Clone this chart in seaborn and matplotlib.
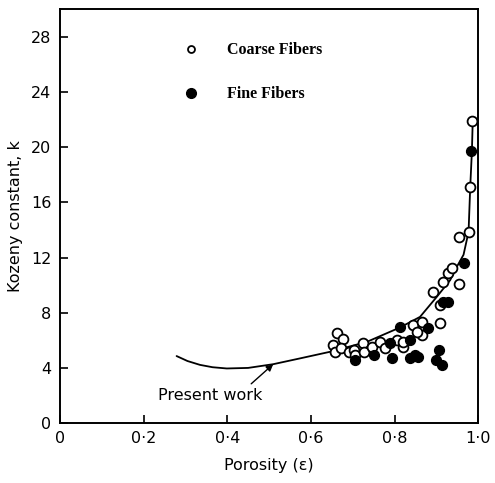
import pandas as pd
import seaborn as sns
import matplotlib.pyplot as plt
from matplotlib.lines import Line2D

# Coarse fibers (open circles)
coarse_x = [0.654, 0.658, 0.662, 0.678, 0.673, 0.692, 0.702, 0.706, 0.724, 0.726,
            0.746, 0.766, 0.778, 0.805, 0.821, 0.821, 0.845, 0.865, 0.865, 0.854,
            0.909, 0.909, 0.893, 0.917, 0.927, 0.937, 0.955, 0.955, 0.977, 0.981, 0.986]
coarse_k = [5.65, 5.17, 6.50, 6.07, 5.43, 5.17, 5.29, 4.93, 5.82, 5.17,
            5.49, 5.89, 5.43, 6.01, 5.53, 5.89, 7.10, 7.34, 6.38, 6.60,
            7.27, 8.55, 9.51, 10.24, 10.85, 11.21, 10.07, 13.50, 13.86, 17.12, 21.90]

# Fine fibers (filled circles)
fine_x = [0.706, 0.752, 0.789, 0.794, 0.813, 0.837, 0.837, 0.849, 0.857, 0.881,
          0.907, 0.900, 0.913, 0.917, 0.929, 0.965, 0.982]
fine_k = [4.57, 4.93, 5.78, 4.69, 6.93, 6.01, 4.71, 4.93, 4.80, 6.86,
          5.29, 4.57, 4.20, 8.79, 8.79, 11.64, 19.71]

# Present work curve
curve_x = [0.279, 0.305, 0.335, 0.365, 0.399, 0.45, 0.51, 0.574, 0.646, 0.734,
           0.813, 0.861, 0.901, 0.933, 0.949, 0.965, 0.977, 0.981, 0.985, 0.987]
curve_k = [4.86, 4.50, 4.22, 4.05, 3.96, 4.00, 4.27, 4.69, 5.17, 5.89,
           6.93, 7.70, 9.15, 10.36, 11.33, 12.20, 13.86, 17.10, 19.70, 21.90]

xticks = [0, 0.2, 0.4, 0.6, 0.8, 1.0]
xtick_labels = ["0", "0·2", "0·4", "0·6", "0·8", "1·0"]
yticks = [0, 4, 8, 12, 16, 20, 24, 28]

sns.set_style("ticks")
plt.rcParams['font.family'] = ['DejaVu Sans']
plt.rcParams.update({"text.color": "black", "axes.labelcolor": "black",
                     "xtick.color": "black", "ytick.color": "black",
                     "axes.edgecolor": "black"})

fig = plt.figure(figsize=(4.95, 4.83), dpi=100)
ax = fig.add_axes([0.121, 0.124, 0.845, 0.857])

curve = pd.DataFrame({"x": curve_x, "k": curve_k})
sns.lineplot(data=curve, x="x", y="k", color="black", linewidth=1.3,
             sort=False, estimator=None, ax=ax)

sns.scatterplot(x=coarse_x, y=coarse_k, marker="o", s=50, facecolor="white",
                edgecolor="black", linewidth=1.3, zorder=3, ax=ax)
sns.scatterplot(x=fine_x, y=fine_k, marker="o", s=50, color="black",
                edgecolor="black", linewidth=1.0, zorder=4, ax=ax)

ax.annotate("Present work", xy=(0.51, 4.27), xytext=(0.234, 2.0),
            fontsize=11.5, va="center", ha="left",
            arrowprops=dict(arrowstyle="-|>", color="black", lw=1.0,
                            shrinkA=1, shrinkB=0, mutation_scale=10,
                            relpos=(0.85, 1.0)))

ax.set_xlim(0, 1.0)
ax.set_ylim(0, 30)
ax.set_xticks(xticks)
ax.set_xticklabels(xtick_labels)
ax.set_yticks(yticks)
ax.tick_params(direction="in", length=6, width=1.2, labelsize=11.5, pad=6)
for s in ax.spines.values():
    s.set_linewidth(1.4)

ax.set_xlabel("Porosity (ε)", fontsize=11.5, labelpad=8)
ax.set_ylabel("Kozeny constant, k", fontsize=11.5, labelpad=6)

handles = [
    Line2D([], [], linestyle="none", marker="o", markersize=5,
           markerfacecolor="white", markeredgecolor="black", markeredgewidth=1.3),
    Line2D([], [], linestyle="none", marker="o", markersize=7,
           markerfacecolor="black", markeredgecolor="black"),
]
ax.legend(handles, ["Coarse Fibers", "Fine Fibers"], frameon=False,
          loc="upper left", bbox_to_anchor=(0.24, 0.955),
          prop={"family": "Liberation Serif", "weight": "bold", "size": 11.5},
          handletextpad=1.3, labelspacing=1.75)

fig.savefig("out.png", dpi=100)
